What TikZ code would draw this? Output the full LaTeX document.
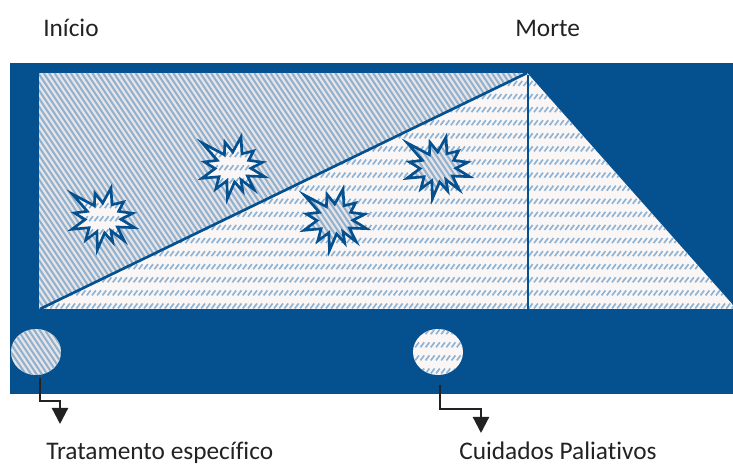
\documentclass[tikz,border=0pt]{standalone}
\usepackage{fontspec}
\setmainfont[Ligatures=NoCommon]{Carlito}
\usetikzlibrary{shapes.geometric,arrows.meta}
\definecolor{bandblue}{HTML}{05508F}
\definecolor{hatchD}{HTML}{8FB1D0}
\definecolor{hatchH}{HTML}{8DB3D5}
\definecolor{paleD}{HTML}{E8E4E6}
\definecolor{paleH}{HTML}{FAF6F6}
\definecolor{ink}{HTML}{222222}
\tikzset{
  label text/.style={font=\fontsize{19}{22}\selectfont,text=ink,inner sep=0pt,anchor=base west},
  divider/.style={draw=bandblue,line width=2pt},
  burst line/.style={draw=bandblue,line width=2pt,miter limit=8},
  leader/.style={draw=ink,line width=1.7pt,-{Triangle[length=12pt,width=12pt]}},
  spot/.style={ellipse,inner sep=0pt,minimum width=37.5pt,minimum height=34.5pt}
}
% diagonal stripes: xmin xmax ymin ymax
\newcommand{\stripesD}[4]{%
  \pgfmathsetmacro{\rise}{(#4-(#3))/1.5}%
  \pgfmathsetmacro{\first}{#1-\rise}%
  \pgfmathsetmacro{\second}{\first+5.4}%
  \foreach \xx in {\first,\second,...,#2}
    \draw[hatchD,line width=1.5pt] (\xx,#3) -- ++(\rise,#4-#3);%
}
% rows of short slanted ticks: xmin xmax first-row-y last-row-y
\newcommand{\stripesH}[4]{%
  \pgfmathsetmacro{\secondx}{#1+5.2}%
  \pgfmathsetmacro{\secondy}{#3-13.09}%
  \foreach \yy in {#3,\secondy,...,#4}
    \foreach \xx in {#1,\secondx,...,#2}
      \draw[hatchH,line width=1.25pt] (\xx,\yy+2.5) -- ++(3.8,-5);%
}
\newcommand{\burstpath}{(-142:39)--(-125:15)--(-108:26)--(-91:15)--(-75:31)--(-56:16)--(-38:26)--(-23:17)--(-9:30)--(4:18)--(17:33)--(32:17)--(47:31)--(58:15)--(68:26)--(84:15)--(100:32)--(114:15)--(128:28)--(145:17)--(160:33)--(175:18)--(-170:29)--(-157:17)--cycle}
\begin{document}
\begin{tikzpicture}[x=0.75pt,y=-0.75pt]
\useasboundingbox (0,0) rectangle (733,466);
\fill[bandblue] (10,63) rectangle (733,394);
\coordinate (tl) at (39,73);
\coordinate (apex) at (527,73);
\coordinate (bl) at (40,309);
\coordinate (br) at (733,309);
\coordinate (foot) at (528,309);
% diagonal-hatched upper triangle
\begin{scope}
  \clip (tl) -- (apex) -- (bl) -- (39,309) -- cycle;
  \fill[paleD] (tl) rectangle (apex |- bl);
  \stripesD{39}{527}{73}{309}
\end{scope}
% horizontal-hatched lower area
\begin{scope}
  \clip (apex) -- (529,75) -- (733,305) -- (br) -- (bl) -- cycle;
  \fill[paleH] (40,73) rectangle (733,309);
  \stripesH{40}{733}{306}{76}
\end{scope}
\draw[divider] (bl) -- (apex);
\draw[bandblue,line width=1.3pt] (528,75) -- (foot);
% bursts
\foreach \cx/\cy in {103/218,233/167}{
  \begin{scope}[shift={(\cx,\cy)}]
    \begin{scope}
      \clip \burstpath;
      \fill[paleH] (-45,-45) rectangle (45,45);
      \stripesH{-45}{45}{40}{-40}
    \end{scope}
    \draw[burst line] \burstpath;
  \end{scope}
}
\foreach \cx/\cy in {335/219,438/167}{
  \begin{scope}[shift={(\cx,\cy)}]
    \begin{scope}
      \clip \burstpath;
      \fill[paleD] (-45,-45) rectangle (45,45);
      \stripesD{-45}{45}{-45}{45}
    \end{scope}
    \draw[burst line] \burstpath;
  \end{scope}
}
% legend spots
\node[spot] (c1) at (36,352) {};
\begin{scope}
  \clip (c1.center) ellipse (25 and 23);
  \fill[paleD] (8,325) rectangle (64,380);
  \stripesD{8}{64}{325}{380}
\end{scope}
\node[spot] (c2) at (438,352) {};
\begin{scope}
  \clip (c2.center) ellipse (25 and 23);
  \fill[paleH] (410,325) rectangle (466,380);
  \stripesH{410}{466}{371}{330}
\end{scope}
% labels
\node[label text] (inicio) at (43,37) {Início};
\node[label text] (morte) at (515,37) {Morte};
\node[label text] (trat) at (46,460) {Tratamento específico};
\node[label text] (cuid) at (459,460) {Cuidados Paliativos};
% leaders
\coordinate (e1a) at (40,378);
\coordinate (e1b) at (40,401);
\coordinate (e1c) at (60,401);
\coordinate (e1d) at (60,424);
\coordinate (e2a) at (440,385);
\coordinate (e2b) at (440,409);
\coordinate (e2c) at (481,409);
\coordinate (e2d) at (481,433);
\draw[leader] (e1a) -- (e1b) -- (e1c) -- (e1d);
\draw[leader] (e2a) -- (e2b) -- (e2c) -- (e2d);
\end{tikzpicture}
\end{document}
